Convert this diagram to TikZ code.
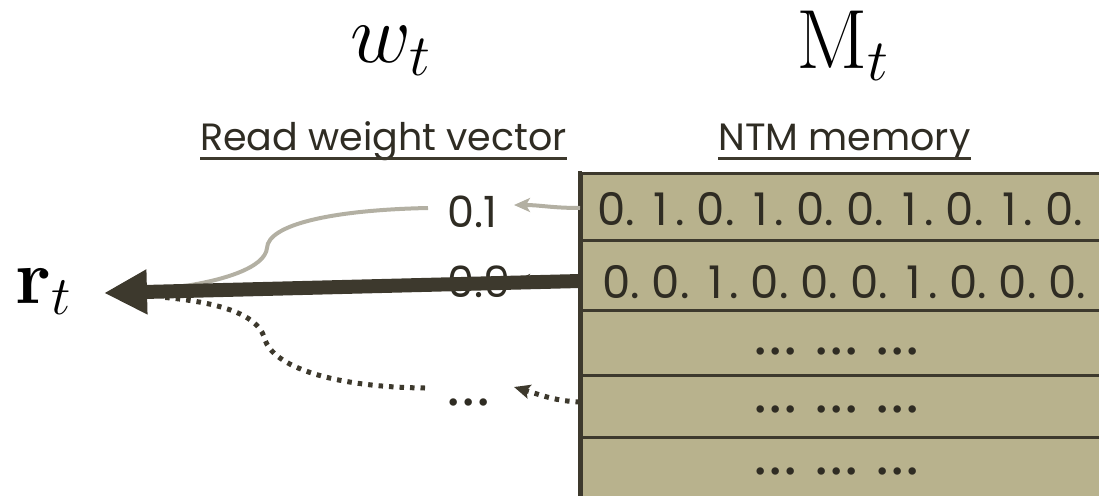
\documentclass[tikz,border=0pt]{standalone}
\usepackage{fix-cm}
\usepackage[no-math]{fontspec}
\setmainfont{Poppins}
\usetikzlibrary{arrows.meta}
\definecolor{ink}{HTML}{2F2C23}
\definecolor{dk}{HTML}{3D392D}
\definecolor{gr}{HTML}{B3B0A3}
\definecolor{mem}{HTML}{B8B28D}
\newcommand\onedot{\makebox[15pt]{•}}
\newcommand\dotgrp{\onedot\onedot\onedot}
\newcommand\dotrow{\dotgrp\hspace{16pt}\dotgrp\hspace{16pt}\dotgrp}
\newcommand\dig[1]{\setbox0\hbox{0}\makebox[\wd0][c]{#1}}
\newcommand\cella[1]{\makebox[49.8pt][l]{\dig{#1}.}}
\newcommand\cellb[1]{\makebox[49.6pt][l]{\dig{#1}.}}
\tikzset{
 mathlbl/.style={inner sep=0pt, font=\fontsize{84}{90}\selectfont, text=black},
 lbl/.style={inner sep=0pt, font=\fontsize{38}{46}\selectfont, text=ink},
 celltxt/.style={inner sep=0pt, font=\fontsize{45}{52}\selectfont, text=ink},
 dottxt/.style={inner sep=0pt, font=\fontsize{30}{32}\selectfont, text=ink},
 valtxt/.style={inner sep=0pt, font=\fontsize{43}{50}\selectfont, text=ink},
 memrow/.style={draw=dk, line width=2.5pt, fill=mem, inner sep=0pt, anchor=north west, minimum width=540pt},
 uline/.style={draw=dk, line width=3pt},
 readarrow/.style={draw=dk, line width=14pt, -{Triangle[length=43pt,width=42pt]}},
 greyarrow/.style={draw=gr, line width=4pt, -{Stealth[length=16pt,width=14pt,inset=4pt]}},
 greycurve/.style={draw=gr, line width=4pt},
 dotcurve/.style={draw=dk, line width=5pt, dash pattern=on 4.5pt off 6pt},
 dotarrow/.style={dotcurve, -{Stealth[length=16pt,width=14pt,inset=3pt]}},
 hidarrow/.style={draw=dk, line width=3.5pt, -{Stealth[length=16pt,width=14pt,inset=4pt]}},
}
\begin{document}
\begin{tikzpicture}[x=1pt,y=-1pt]
\useasboundingbox (0,0) rectangle (1099,495);
\clip (0,0) rectangle (1099,495);

% headings
\node[mathlbl, anchor=base west] (w) at (350,63) {$w_t$};
\node[mathlbl, anchor=base west] (M) at (796,68) {$\mathrm{M}_t$};
\node[lbl, anchor=base] (rw) at (383.5,150) {Read weight vector};
\node[lbl, anchor=base] (nm) at (844.5,150) {NTM memory};
\draw[uline] ([yshift=-8pt]rw.base west) -- ([yshift=-8pt]rw.base east);
\draw[uline] ([yshift=-8pt]nm.base west) -- ([yshift=-8pt]nm.base east);

% memory rows
\node[memrow, minimum height=67pt] (m1) at (580,172) {};
\node[memrow, minimum height=70pt] (m2) at (580,239) {};
\node[memrow, minimum height=65pt] (m3) at (580,309) {};
\node[memrow, minimum height=62pt] (m4) at (580,374) {};
\node[memrow, minimum height=70pt] (m5) at (580,436) {};
\draw[dk, line width=4pt] (580,171) -- (580,500);
\node[celltxt, anchor=base west] (c1) at (597,225) {\cella0\cella1\cella0\cella1\cella0\cella0\cella1\cella0\cella1\cella0};
\node[celltxt, anchor=base west] (c2) at (602,298) {\cellb0\cellb0\cellb1\cellb0\cellb0\cellb0\cellb1\cellb0\cellb0\cellb0};
\node[dottxt, anchor=base] (c3) at (837,361) {\dotrow};
\node[dottxt, anchor=base] (c4) at (837,419) {\dotrow};
\node[dottxt, anchor=base] (c5) at (837,481) {\dotrow};

% read result
\node[mathlbl, font=\fontsize{78}{86}\selectfont, anchor=base west] (r) at (15,303) {$\mathbf{r}_t$};

% weights
\node[valtxt, anchor=base west] (v1) at (447,227) {0.1};
\node[valtxt, anchor=base west] (v2) at (447,297) {0.9};
\node[dottxt, anchor=base] (v3) at (469,412) {\dotgrp};

% connector end points
\coordinate (s1) at (580,208);
\coordinate (t1) at (514,205);
\coordinate (s2) at (580,281);
\coordinate (t2) at (514,281);
\coordinate (s4) at (580,402);
\coordinate (t4) at (514,387);
\coordinate (rtip) at (104,293);
\coordinate (g1) at (428,208);
\coordinate (g2) at (178,287);
\coordinate (d1) at (425,388);
\coordinate (d2) at (160,297);

% memory -> weights
\draw[greyarrow] (s1) .. controls (552,208) and (540,205) .. (t1);
\draw[hidarrow] (s2) -- (t2);
\draw[dotarrow] (s4) .. controls (556,401) and (544,396) .. (t4);

% weights -> r_t
\draw[greycurve] (g1) .. controls (330,210) and (268,225) .. (267,248) .. controls (265,268) and (222,281) .. (g2);
\draw[dotcurve] (d1) .. controls (330,387) and (274,366) .. (265,340) .. controls (260,318) and (230,303) .. (d2);
\draw[readarrow] (s2) -- (rtip);
\end{tikzpicture}
\end{document}
